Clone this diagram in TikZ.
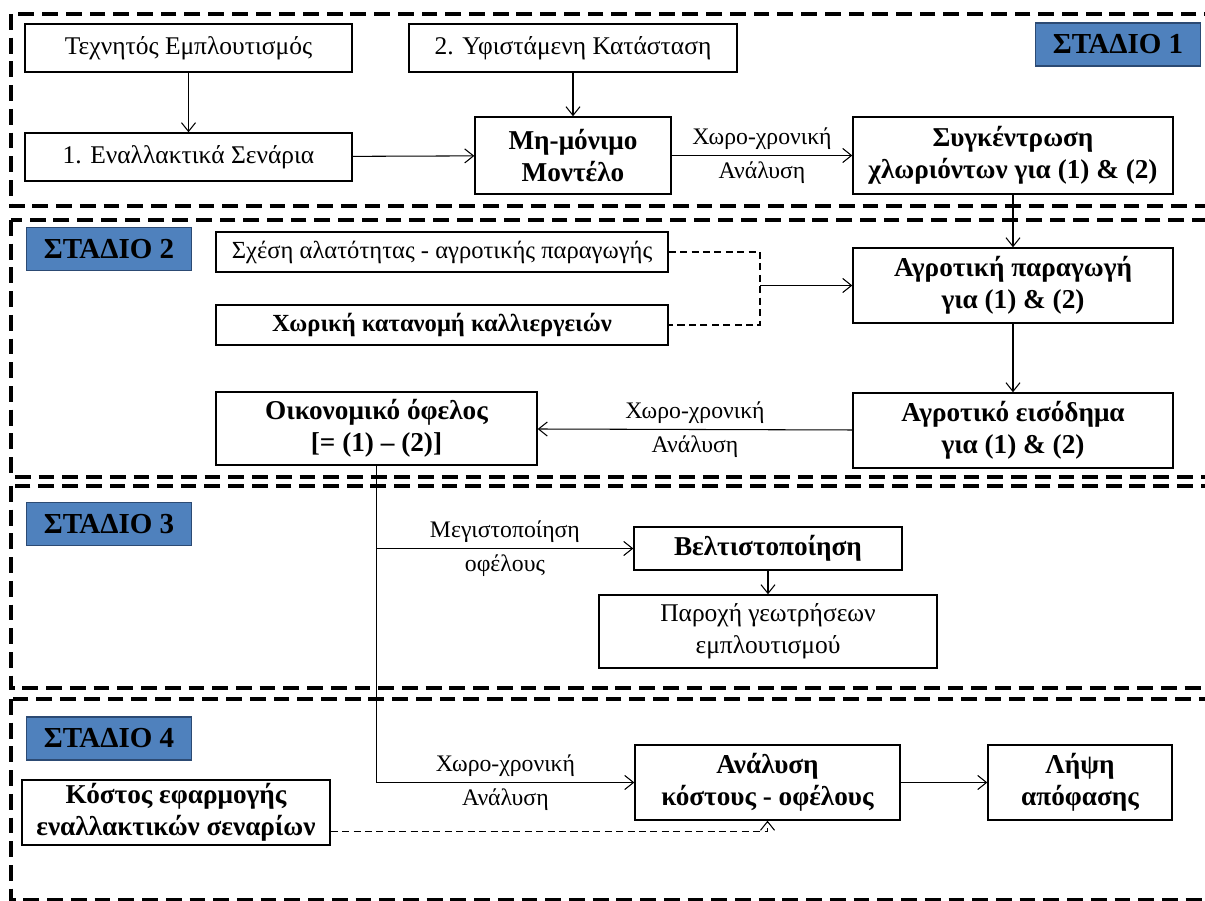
\documentclass[tikz,border=0pt]{standalone}
\usepackage{fontspec}
\setmainfont{Liberation Serif}
\usetikzlibrary{arrows.meta}
\definecolor{stageblue}{HTML}{4F81BD}
\definecolor{stageedge}{HTML}{2C4A73}

\begin{document}
\begin{tikzpicture}[x=0.02cm, y=-0.02cm,
  box/.style={draw, line width=0.8pt, align=center, inner sep=2pt, font=\fontsize{14.5}{18}\selectfont},
  boldbox/.style={box, font=\fontsize{15.5}{18}\selectfont\bfseries},
  stagelabel/.style={draw=stageedge, fill=stageblue, line width=0.8pt, minimum width=3.3cm, minimum height=0.86cm, font=\fontsize{16.5}{18}\selectfont\bfseries},
  stageframe/.style={line width=2.6pt, dash pattern=on 9pt off 4.5pt},
  link/.style={-{Straight Barb[length=5pt, width=8pt]}, line width=0.6pt},
  aside/.style={line width=0.6pt, dash pattern=on 4pt off 2.5pt},
  lbl/.style={font=\fontsize{13.5}{15}\selectfont}]
  \useasboundingbox (0,0) rectangle (1205,901);
  \clip (0,0) rectangle (1205,901);
  % stage frames
  \draw[stageframe] (11,14) rectangle (1230,206);
  \draw[stageframe] (11,220) rectangle (1230,477);
  \draw[stageframe] (11,486) rectangle (1230,688);
  \draw[stageframe] (11,699) rectangle (1230,900);
  % stage 1
  \node[stagelabel] (St1) at (1118, 44.5) {ΣΤΑΔΙΟ 1};
  \node[box, minimum width=6.54cm, minimum height=0.96cm] (Tex) at (188.5, 48) {Τεχνητός Εμπλουτισμός};
  \node[box, minimum width=6.56cm, minimum height=0.96cm] (Yfist) at (573, 48) {2. Υφιστάμενη Κατάσταση};
  \node[box, minimum width=6.54cm, minimum height=0.96cm] (Enal) at (188.5, 157) {1. Εναλλακτικά Σενάρια};
  \node[boldbox, minimum width=3.92cm, minimum height=1.54cm] (Montelo) at (573, 155.5) {Μη-μόνιμο\\Μοντέλο};
  \node[boldbox, minimum width=6.4cm, minimum height=1.54cm] (Sygk) at (1013, 155.5) {Συγκέντρωση\\χλωριόντων για (1) \& (2)};
  % stage 2
  \node[stagelabel] (St2) at (109, 249) {ΣΤΑΔΙΟ 2};
  \node[box, minimum width=9.04cm, minimum height=0.8cm, font=\fontsize{14}{16}\selectfont] (Sxesi) at (442, 252) {Σχέση αλατότητας - αγροτικής παραγωγής};
  \node[box, minimum width=9.04cm, minimum height=0.8cm, font=\fontsize{14}{16}\selectfont\bfseries] (Xoriki) at (442, 325) {Χωρική κατανομή καλλιεργειών};
  \node[boldbox, minimum width=6.4cm, minimum height=1.5cm] (Paragogi) at (1013, 285.5) {Αγροτική παραγωγή\\για (1) \& (2)};
  \node[boldbox, minimum width=6.4cm, minimum height=1.5cm] (Eisodima) at (1013, 430.5) {Αγροτικό εισόδημα\\για (1) \& (2)};
  \node[boldbox, minimum width=6.42cm, minimum height=1.46cm] (Ofelos) at (376.5, 428.5) {Οικονομικό όφελος\\{}[= (1) – (2)]};
  \coordinate (Join) at (760, 285.5);
  % stage 3
  \node[stagelabel] (St3) at (109, 524) {ΣΤΑΔΙΟ 3};
  \node[boldbox, minimum width=5.36cm, minimum height=0.86cm] (Veltist) at (768, 548.5) {Βελτιστοποίηση};
  \node[box, minimum width=6.76cm, minimum height=1.46cm] (Paroxi) at (768, 631.5) {Παροχή γεωτρήσεων\\εμπλουτισμού};
  % stage 4
  \node[stagelabel] (St4) at (109, 738.5) {ΣΤΑΔΙΟ 4};
  \node[boldbox, minimum width=6.16cm, minimum height=1.3cm] (Kostos) at (176, 812.5) {Κόστος εφαρμογής\\εναλλακτικών σεναρίων};
  \node[boldbox, minimum width=5.3cm, minimum height=1.5cm] (Analysi) at (767.5, 782.5) {Ανάλυση\\κόστους - οφέλους};
  \node[boldbox, minimum width=3.68cm, minimum height=1.5cm] (Lipsi) at (1080, 782.5) {Λήψη\\απόφασης};
  % connectors
  \draw[link] (Tex) -- (Enal);
  \draw[link] (Yfist) -- (Montelo);
  \draw[link] (Enal) -- (Montelo);
  \draw[link] (Montelo) -- node[lbl, above] {Χωρο-χρονική} node[lbl, below] {Ανάλυση} (Sygk);
  \draw[link] (Sygk) -- (Paragogi);
  \draw[aside] (Sxesi.east) -| (Join) |- (Xoriki.east);
  \draw[link] (Join) -- (Paragogi);
  \draw[link] (Paragogi) -- (Eisodima);
  \draw[link] (Eisodima) -- node[lbl, above] {Χωρο-χρονική} node[lbl, below] {Ανάλυση} (Ofelos);
  \draw[link] (Ofelos.south |- Veltist.west) -- node[lbl, above] {Μεγιστοποίηση} node[lbl, below] {οφέλους} (Veltist);
  \draw[link] (Veltist) -- (Paroxi);
  \draw[link] (Ofelos.south) |- node[lbl, pos=0.75, above] {Χωρο-χρονική} node[lbl, pos=0.75, below] {Ανάλυση} (Analysi.west);
  \draw[aside, -{Straight Barb[length=5pt, width=8pt]}] ([yshift=-11pt]Kostos.east) -| (Analysi.south);
  \draw[link] (Analysi) -- (Lipsi);
\end{tikzpicture}
\end{document}
